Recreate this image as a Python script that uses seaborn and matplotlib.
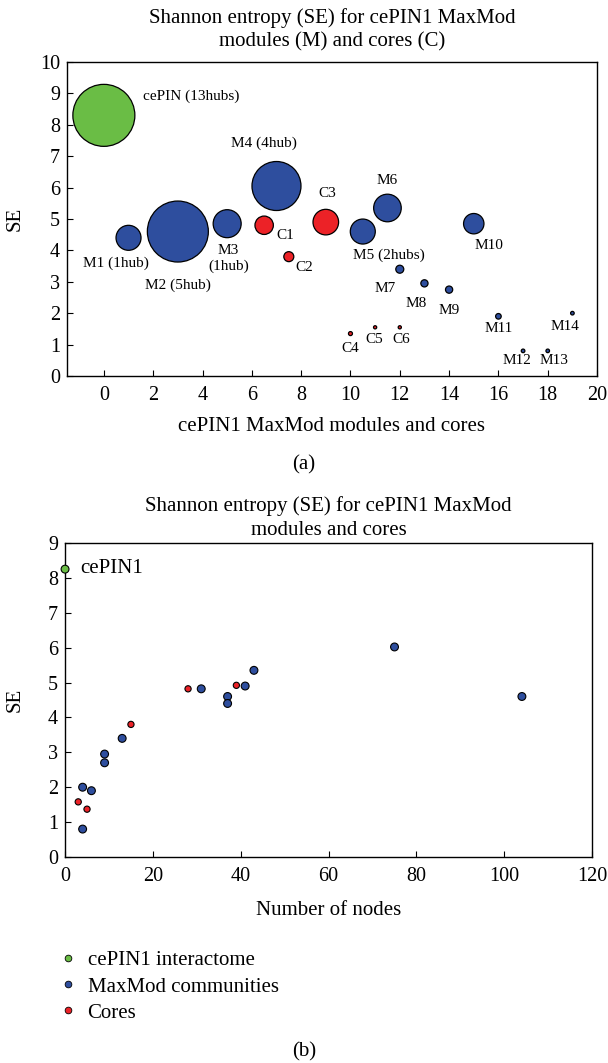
import matplotlib
matplotlib.use("Agg")
import matplotlib.pyplot as plt
from matplotlib.lines import Line2D
import pandas as pd
import seaborn as sns

# --- data (a): SE of modules and cores, bubble = relative size ---
names_a = ["cePIN", "M1", "M2", "M3", "M4", "C1", "C2", "C3", "M5", "M6", "M7",
           "M8", "M9", "M10", "C4", "C5", "C6", "M11", "M12", "M13", "M14"]
x_a = [0, 1, 3, 5, 7, 6.5, 7.5, 9, 10.5, 11.5, 12, 13, 14, 15, 10, 11, 12, 16, 17, 18, 19]
se_a = [8.3, 4.4, 4.6, 4.85, 6.05, 4.8, 3.8, 4.9, 4.6, 5.35, 3.4, 2.95, 2.75, 4.85,
        1.35, 1.55, 1.55, 1.9, 0.8, 0.8, 2.0]
bubble_a = [31, 12.5, 30.5, 14, 24.5, 9.2, 5, 12.8, 12.5, 13.8, 4, 3.6, 3.6, 10.2,
            2, 1.6, 1.6, 2.8, 1.8, 1.8, 1.8]
group_a = ["cePIN1 interactome"] + ["MaxMod communities"] * 4 + ["Cores"] * 3 + \
          ["MaxMod communities"] * 6 + ["Cores"] * 3 + ["MaxMod communities"] * 4

# --- data (b): SE vs number of nodes ---
nodes_b = [0, 4, 4, 6, 9, 9, 13, 31, 37, 37, 41, 43, 75, 104, 3, 5, 15, 28, 39]
se_b = [8.25, 0.8, 2.0, 1.9, 2.95, 2.7, 3.4, 4.82, 4.6, 4.4, 4.9, 5.35, 6.02, 4.6,
        1.58, 1.37, 3.8, 4.82, 4.92]
group_b = ["cePIN1 interactome"] + ["MaxMod communities"] * 13 + ["Cores"] * 5

cores = {"cePIN1 interactome": "#6abd45",
         "MaxMod communities": "#2e4e9e",
         "Cores": "#ec2227"}

# etiquetas do painel (a): texto, x, y, alinhamento
rotulos_a = [("cePIN (13hubs)", 1.6, 8.9, "left"), ("M4 (4hub)", 6.5, 7.4, "center"),
             ("M1 (1hub)", 0.5, 3.6, "center"), ("M2 (5hub)", 3.0, 2.9, "center"),
             ("M3\n(1hub)", 5.05, 3.75, "center"), ("C1", 6.98, 4.46, "left"),
             ("C2", 7.75, 3.44, "left"), ("C3", 9.05, 5.8, "center"),
             ("M6", 11.5, 6.24, "center"), ("M5 (2hubs)", 11.57, 3.85, "center"),
             ("M10", 15.6, 4.14, "center"), ("M7", 11.4, 2.8, "center"),
             ("M8", 12.66, 2.32, "center"), ("M9", 14.0, 2.07, "center"),
             ("M11", 16.0, 1.5, "center"), ("M14", 18.7, 1.56, "center"),
             ("M12", 16.75, 0.48, "center"), ("M13", 18.26, 0.5, "center"),
             ("C4", 10.0, 0.89, "center"), ("C5", 10.95, 1.15, "center"),
             ("C6", 12.05, 1.15, "center")]

sns.set_style("white")
plt.rcParams["font.family"] = ["Liberation Serif", "DejaVu Serif"]
plt.rcParams["text.color"] = "black"
plt.rcParams["axes.labelcolor"] = "black"

fig = plt.figure(figsize=(6.08, 10.63), dpi=100)
ax1 = fig.add_axes([0.110, 0.6463, 0.872, 0.2954])
ax2 = fig.add_axes([0.107, 0.1938, 0.867, 0.2954])

df_a = pd.DataFrame({"x": x_a, "se": se_a, "grupo": group_a,
                     "area": [b ** 2 for b in bubble_a]})
s_max = (2 * 31 * 72 / 100) ** 2
sns.scatterplot(data=df_a, x="x", y="se", hue="grupo", palette=cores,
                size="area", sizes=(0, s_max), size_norm=(0, 31 ** 2),
                edgecolor="black", linewidth=0.9, legend=False, ax=ax1)
for txt, tx, ty, ha in rotulos_a:
    ax1.text(tx, ty, txt, ha=ha, va="center", fontsize=11, linespacing=1.2)

ax1.set_xlim(-1.5, 20)
ax1.set_ylim(0, 10)
ax1.set_xticks(range(0, 21, 2))
ax1.set_yticks(range(0, 11))
ax1.set_title("Shannon entropy (SE) for cePIN1 MaxMod\nmodules (M) and cores (C)",
              fontsize=15, pad=11, linespacing=1.3)
ax1.set_xlabel("cePIN1 MaxMod modules and cores", fontsize=15, labelpad=9)
ax1.set_ylabel("SE", fontsize=15, labelpad=11)

df_b = pd.DataFrame({"nodes": nodes_b, "se": se_b, "grupo": group_b})
df_b["area"] = [20 if g == "Cores" else 32 for g in group_b]
sns.scatterplot(data=df_b, x="nodes", y="se", hue="grupo", palette=cores,
                size="area", sizes=(20, 32), edgecolor="black", linewidth=0.8,
                legend=False, ax=ax2, clip_on=False, zorder=3)
ax2.text(3.4, 8.28, "cePIN1", ha="left", va="center", fontsize=15)
ax2.set_xlim(0, 120)
ax2.set_ylim(0, 9)
ax2.set_xticks(range(0, 121, 20))
ax2.set_yticks(range(0, 10))
ax2.set_title("Shannon entropy (SE) for cePIN1 MaxMod\nmodules and cores",
              fontsize=15, pad=6, linespacing=1.3)
ax2.set_xlabel("Number of nodes", fontsize=15, labelpad=11)
ax2.set_ylabel("SE", fontsize=15, labelpad=17)

for ax in (ax1, ax2):
    for sp in ax.spines.values():
        sp.set_color("black")
        sp.set_linewidth(1.0)
    ax.tick_params(direction="in", length=4, width=0.8, colors="black",
                   labelsize=14.5, pad=5, top=False, right=False,
                   bottom=True, left=True)
    ax.tick_params(axis="x", pad=7)

handles = [Line2D([], [], marker="o", ls="", markersize=4.8,
                  markerfacecolor=cores[k], markeredgecolor="black",
                  markeredgewidth=0.6, label=k) for k in cores]
fig.legend(handles=handles, loc="upper left", bbox_to_anchor=(0.06, 0.1233),
           frameon=False, fontsize=15, handletextpad=0.35, labelspacing=0.32,
           handlelength=1.2)

fig.text(0.5, 0.5626, "(a)", ha="center", va="center", fontsize=15)
fig.text(0.5, 0.0103, "(b)", ha="center", va="center", fontsize=15)

fig.savefig("out.png", dpi=100)
